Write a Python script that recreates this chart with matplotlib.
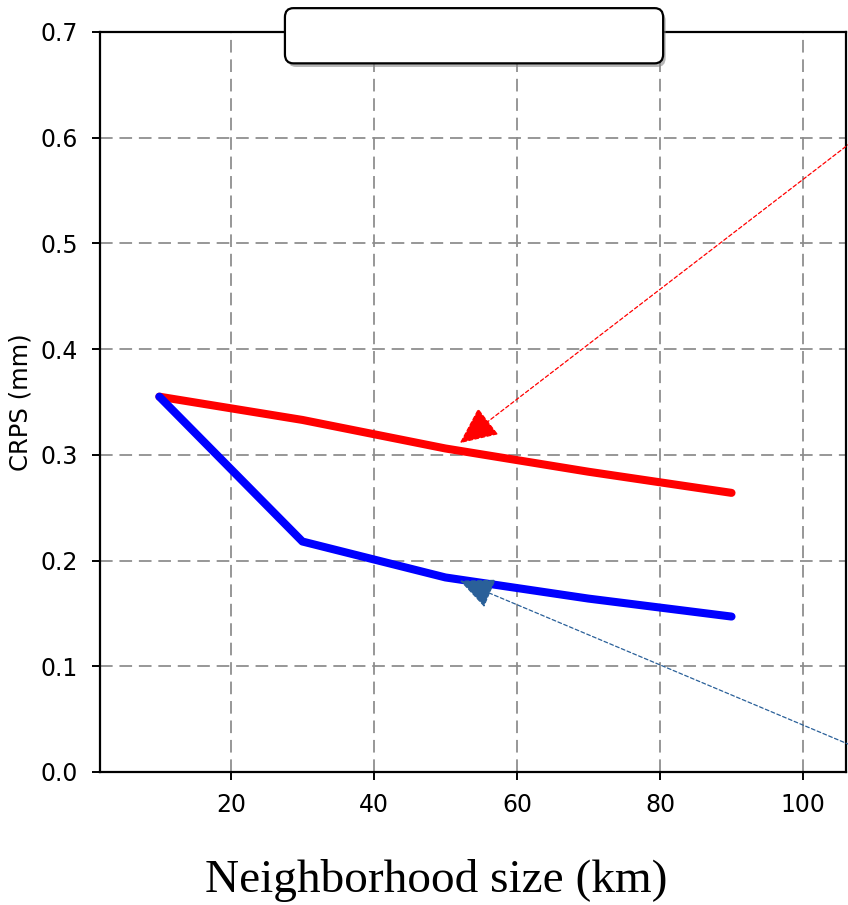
import matplotlib
matplotlib.use('Agg')
import matplotlib.pyplot as plt
from matplotlib.patches import FancyBboxPatch

# neighborhood sizes (km) and CRPS values
sizes     = [10, 30, 50, 70, 90]
crps_red  = [0.355, 0.333, 0.306, 0.284, 0.264]
crps_blue = [0.355, 0.218, 0.184, 0.164, 0.147]

x_ticks = [20, 40, 60, 80, 100]
y_ticks = [0.0, 0.1, 0.2, 0.3, 0.4, 0.5, 0.6, 0.7]

fig = plt.figure(figsize=(8.48, 9.05), dpi=100)
ax = fig.add_axes([0.1179, 0.147, 0.8797, 0.8177])

ax.plot(sizes, crps_red, color='red', lw=5.8, solid_capstyle='round', zorder=3)
ax.plot(sizes, crps_blue, color='blue', lw=5.8, solid_capstyle='round', zorder=3)

ax.set_xlim(1.7, 106)
ax.set_ylim(0, 0.7)
ax.set_xticks(x_ticks)
ax.set_yticks(y_ticks)
ax.set_yticklabels([f'{v:.1f}' for v in y_ticks])

# grid
ax.grid(which='major', axis='both', color='#8c8c8c', linestyle=(0, (6.5, 3.5)), lw=1.4, alpha=0.9)
ax.set_axisbelow(True)

for s in ax.spines.values():
    s.set_linewidth(1.6)
ax.tick_params(axis='both', length=5.8, width=1.4, labelsize=17)
ax.tick_params(axis='x', pad=9)
ax.tick_params(axis='y', pad=10)

ax.set_ylabel('CRPS (mm)', fontsize=17.5, labelpad=6)
# x label sits a bit left of the axes centre in the original
fig.text(0.515, 0.0145, 'Neighborhood size (km)', fontsize=34, family='Liberation Serif',
         ha='center', va='baseline')

# annotation arrows coming in from the right
ax.annotate('', xy=(52.0, 0.311), xytext=(122.6, 0.678), annotation_clip=False,
            arrowprops=dict(arrowstyle='-|>,head_length=1.1,head_width=0.5', color='red',
                            lw=0.9, linestyle=(0, (3, 2)), mutation_scale=22,
                            shrinkA=0, shrinkB=0))
ax.annotate('', xy=(52.0, 0.181), xytext=(122.6, -0.02), annotation_clip=False,
            arrowprops=dict(arrowstyle='-|>,head_length=1.0,head_width=0.45', color='#2a6099',
                            lw=0.9, linestyle=(0, (3, 2)), mutation_scale=22,
                            shrinkA=0, shrinkB=0))

# empty legend frame at the top
shadow = FancyBboxPatch((0.339, 0.926), 0.446, 0.061, boxstyle='round,pad=0,rounding_size=0.01',
                        transform=fig.transFigure, facecolor='#888888', edgecolor='none',
                        alpha=0.6, zorder=5)
box = FancyBboxPatch((0.336, 0.930), 0.446, 0.061, boxstyle='round,pad=0,rounding_size=0.01',
                     transform=fig.transFigure, facecolor='white', edgecolor='black',
                     lw=1.6, zorder=6)
fig.patches.append(shadow)
fig.patches.append(box)

fig.savefig('out.png', dpi=100)
